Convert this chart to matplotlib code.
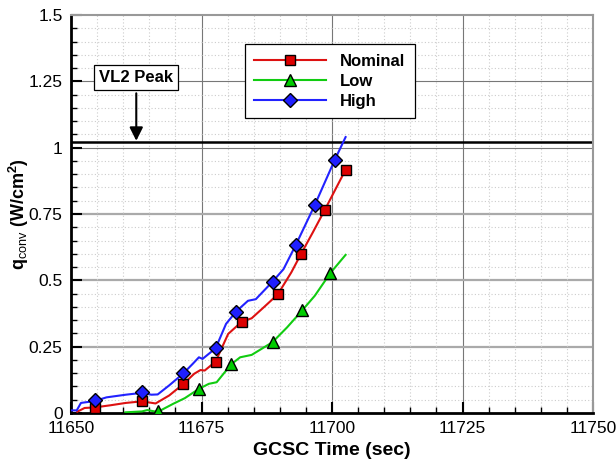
import matplotlib
matplotlib.use("Agg")
import matplotlib.pyplot as plt
from matplotlib.ticker import MultipleLocator

plt.rcParams['font.family'] = ['Liberation Sans', 'DejaVu Sans']
plt.rcParams['mathtext.fontset'] = 'custom'
plt.rcParams['mathtext.rm'] = 'Liberation Sans'
plt.rcParams['mathtext.it'] = 'Liberation Sans'
plt.rcParams['mathtext.bf'] = 'Liberation Sans:bold'

# ---- data ----
high_line_x = [11650.0, 11651.1, 11651.9, 11654.5, 11656.8, 11660.5, 11663.6, 11665.4, 11666.6,
               11668.8, 11671.5, 11673.3, 11674.5, 11675.2, 11677.7, 11679.7, 11681.6, 11683.9,
               11685.4, 11688.6, 11690.7, 11693.1, 11696.7, 11700.5, 11702.6]
high_line_y = [0.010, 0.010, 0.038, 0.045, 0.059, 0.069, 0.076, 0.069, 0.070,
               0.104, 0.149, 0.185, 0.210, 0.204, 0.244, 0.336, 0.382, 0.423,
               0.429, 0.495, 0.542, 0.635, 0.784, 0.953, 1.040]
nom_line_x = [11651.2, 11652.6, 11654.5, 11657.5, 11660.5, 11663.6, 11666.2, 11668.8, 11671.5,
              11673.6, 11674.8, 11675.6, 11677.7, 11680.1, 11682.7, 11684.6, 11686.9, 11689.6,
              11692.2, 11694.1, 11696.3, 11698.6, 11702.6]
nom_line_y = [0.005, 0.019, 0.021, 0.029, 0.038, 0.044, 0.036, 0.066, 0.109,
              0.148, 0.162, 0.160, 0.194, 0.298, 0.344, 0.357, 0.398, 0.447,
              0.530, 0.601, 0.680, 0.765, 0.917]
low_line_x = [11660.4, 11663.6, 11664.6, 11666.6, 11669.6, 11671.8, 11674.5, 11676.4, 11677.9,
              11680.7, 11682.4, 11684.6, 11688.6, 11691.4, 11694.3, 11696.7, 11699.7, 11702.6]
low_line_y = [0.0025, 0.006, 0.011, 0.004, 0.035, 0.056, 0.091, 0.110, 0.116,
              0.184, 0.210, 0.219, 0.267, 0.323, 0.387, 0.442, 0.528, 0.596]

nom_mark_x = [11654.5, 11663.6, 11671.5, 11677.7, 11682.7, 11689.6, 11694.1, 11698.6, 11702.6]
nom_mark_y = [0.019, 0.046, 0.109, 0.194, 0.344, 0.447, 0.601, 0.765, 0.917]
low_mark_x = [11666.6, 11674.5, 11680.7, 11688.6, 11694.3, 11699.7]
low_mark_y = [0.0075, 0.091, 0.184, 0.267, 0.387, 0.528]
high_mark_x = [11654.5, 11663.6, 11671.5, 11677.7, 11681.6, 11688.6, 11693.1, 11696.7, 11700.5]
high_mark_y = [0.050, 0.079, 0.149, 0.244, 0.382, 0.495, 0.635, 0.784, 0.953]

series_names = ["Nominal", "Low", "High"]
vl2_peak = 1.02
x_ticks = [11650, 11675, 11700, 11725, 11750]
y_ticks = [0, 0.25, 0.5, 0.75, 1, 1.25, 1.5]
y_tick_labels = ["0", "0.25", "0.5", "0.75", "1", "1.25", "1.5"]

fig = plt.figure(figsize=(6.16, 4.61), dpi=100)
ax = fig.add_axes([0.1153, 0.1041, 0.8474, 0.8633])
ax.set_xlim(11650, 11750)
ax.set_ylim(0, 1.5)

# grid
ax.xaxis.set_minor_locator(MultipleLocator(5))
ax.yaxis.set_minor_locator(MultipleLocator(0.05))
ax.set_xticks(x_ticks)
ax.set_yticks(y_ticks)
ax.set_yticklabels(y_tick_labels)
ax.grid(which='minor', color='#cccccc', linestyle=(0, (1, 2)), linewidth=0.8)
for xv in x_ticks[1:-1]:
    ax.axvline(xv, color='#777777', lw=0.8, zorder=1)
for yv in y_ticks[1:-1]:
    if yv < 1:
        ax.axhline(yv, color='#aaaaaa', lw=1.6, zorder=1)
    else:
        ax.axhline(yv, color='#777777', lw=0.8, zorder=1)

ax.axhline(vl2_peak, color='black', lw=1.8, zorder=2)

red, green, blue = '#dd1111', '#11cc11', '#2222ff'
sq = dict(marker='s', ms=7, mfc='#dd0000', mec='black', mew=1.0)
tr = dict(marker='^', ms=8, mfc='#00cc00', mec='black', mew=1.0)
di = dict(marker='D', ms=7.5, mfc='#1f1fff', mec='black', mew=1.0)
ax.plot(nom_line_x, nom_line_y, color=red, lw=1.5, zorder=3)
ax.plot(low_line_x, low_line_y, color=green, lw=1.5, zorder=3)
ax.plot(high_line_x, high_line_y, color=blue, lw=1.5, zorder=3)
ax.plot(nom_mark_x, nom_mark_y, ls='none', zorder=4, **sq)
ax.plot(low_mark_x, low_mark_y, ls='none', zorder=4, **tr)
ax.plot(high_mark_x, high_mark_y, ls='none', zorder=4, **di)

# legend handles
h1, = ax.plot([], [], color=red, lw=1.5, **sq)
h2, = ax.plot([], [], color=green, lw=1.5, **tr)
h3, = ax.plot([], [], color=blue, lw=1.5, **di)
leg = ax.legend([h1, h2, h3], series_names, loc='center', bbox_to_anchor=(0.496, 0.834),
                numpoints=1, handlelength=4.3, handletextpad=0.85, labelspacing=0.3,
                fancybox=False, framealpha=1, edgecolor='black', borderpad=0.55,
                borderaxespad=0, prop={'weight': 'bold', 'size': 12})
leg.get_frame().set_linewidth(0.9)

# VL2 peak annotation
ax.annotate('', xy=(11662.5, 1.026), xytext=(11662.5, 1.205),
            arrowprops=dict(arrowstyle='-|>', color='black', lw=1.5, mutation_scale=20,
                            shrinkA=0, shrinkB=0))
ax.text(11662.5, 1.265, 'VL2 Peak', ha='center', va='center', fontsize=12, fontweight='bold',
        bbox=dict(boxstyle='square,pad=0.3', fc='white', ec='black', lw=0.9), zorder=5)

# spines / ticks
for s in ['left', 'bottom']:
    ax.spines[s].set_linewidth(2.0)
    ax.spines[s].set_color('black')
for s in ['top', 'right']:
    ax.spines[s].set_linewidth(1.5)
    ax.spines[s].set_color('#999999')
ax.tick_params(which='major', direction='in', length=8, width=1.5, labelsize=12.5, pad=6)
ax.tick_params(which='minor', direction='in', length=4, width=1.0)
ax.tick_params(top=False, right=False, which='both')

ax.set_xlabel('GCSC Time (sec)', fontsize=14, fontweight='bold', labelpad=4)
ax.set_ylabel(r'q$_{\mathrm{conv}}$ (W/cm$^{\mathbf{2}}$)', fontsize=13, fontweight='bold', labelpad=-2)

fig.savefig('out.png', dpi=100)
